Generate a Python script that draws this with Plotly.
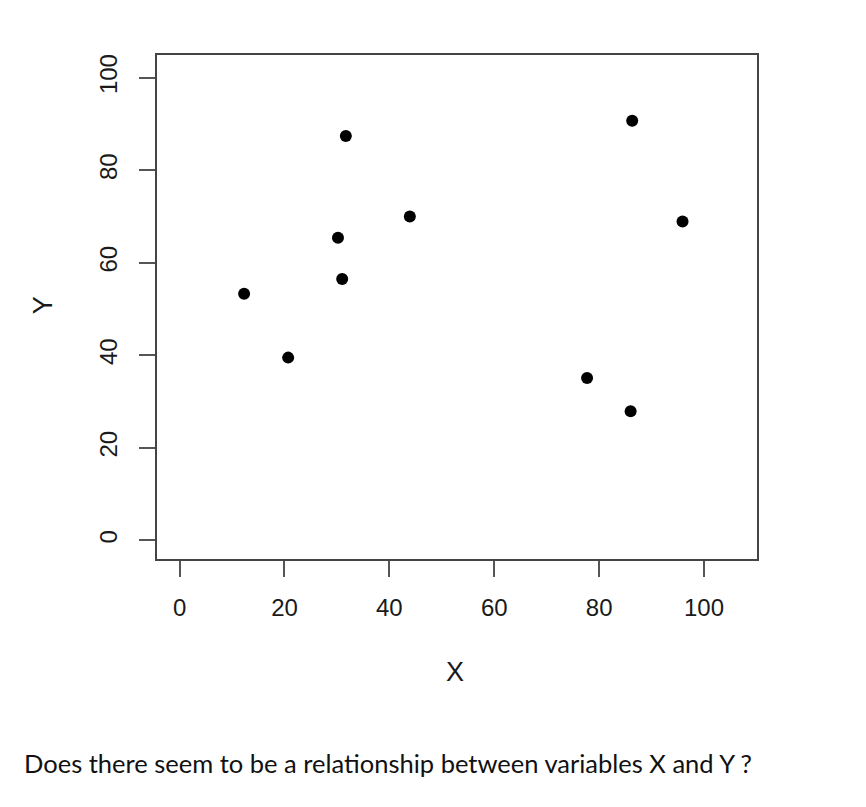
import plotly.graph_objects as go

# points
x_vals = [12.3, 20.7, 31.7, 30.2, 31.0, 43.9, 86.3, 95.9, 77.7, 86.0]
y_vals = [53.3, 39.5, 87.4, 65.4, 56.5, 70.0, 90.7, 68.9, 35.1, 27.9]

x_ticks = [0, 20, 40, 60, 80, 100]
y_ticks = [0, 20, 40, 60, 80, 100]

caption = "Does there seem to be a relationship between variables X and Y ?"

fig = go.Figure(go.Scatter(
    x=x_vals, y=y_vals, mode="markers",
    marker=dict(color="black", size=12),
    hoverinfo="x+y",
))

axis_font = dict(family="Liberation Sans, Arial", size=24, color="#1a1a1a")
title_font = dict(family="Liberation Sans, Arial", size=27, color="#1a1a1a")

fig.update_xaxes(
    range=[-4.31, 110.1], tickvals=x_ticks, ticks="outside", ticklen=16,
    tickwidth=1.5, tickcolor="#555", showgrid=False, zeroline=False,
    showline=True, mirror=True, linecolor="#444", linewidth=2,
    tickfont=axis_font, ticklabelstandoff=10,
)
fig.update_yaxes(
    range=[-4.02, 104.9], tickvals=y_ticks, ticks="outside", ticklen=16,
    tickwidth=1.5, tickcolor="#555", showgrid=False, zeroline=False,
    showline=True, mirror=True, linecolor="#444", linewidth=2,
    tickfont=axis_font, tickangle=-90, ticklabelstandoff=12,
)

# axis titles and the question underneath (page body adds 8px offset)
fig.add_annotation(text="X", xref="paper", yref="paper", x=0.497, y=-0.2235,
                   xanchor="center", yanchor="middle", showarrow=False,
                   font=title_font)
fig.add_annotation(text="Y", xref="paper", yref="paper", x=-0.1895, y=0.504,
                   xanchor="center", yanchor="middle", textangle=-90,
                   showarrow=False, font=title_font)
fig.add_annotation(text=caption, xref="paper", yref="paper", x=-0.225, y=-0.404,
                   xanchor="left", yanchor="middle", showarrow=False,
                   font=dict(family="Lato", size=25.5, color="#111"))

fig.update_layout(
    width=866, height=807,
    margin=dict(l=149, r=117, t=47, b=256),
    plot_bgcolor="white", paper_bgcolor="white",
    showlegend=False,
)

fig.write_html("out.html")
